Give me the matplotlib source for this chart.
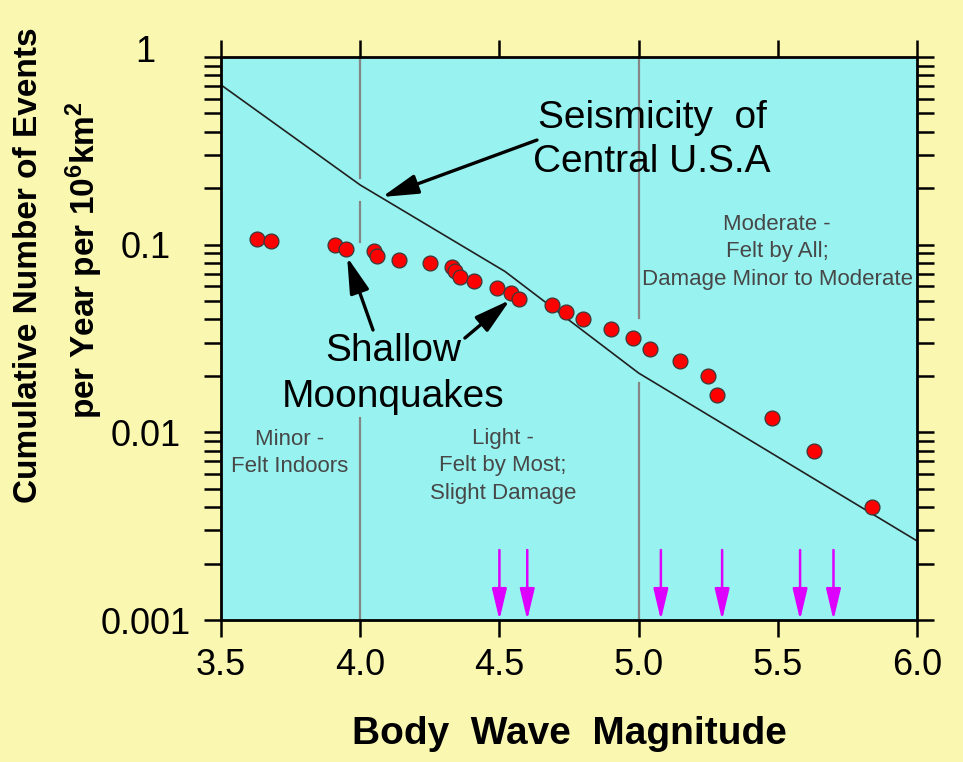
"""Shallow moonquakes vs. seismicity of the central U.S.A. (cumulative frequency)."""

import matplotlib
matplotlib.use("Agg")
import matplotlib.pyplot as plt
import matplotlib.transforms as mtransforms
from matplotlib.ticker import FixedLocator, LogLocator, NullFormatter

plt.rcParams.update({
    "font.family": ["Liberation Sans", "DejaVu Sans"],
    "mathtext.fontset": "custom",
    "mathtext.rm": "Liberation Sans:bold",
    "mathtext.it": "Liberation Sans:bold",
    "mathtext.bf": "Liberation Sans:bold",
})

# shallow moonquakes (body wave magnitude, cumulative events / yr / 10^6 km^2)
moon_mag = [3.63, 3.68, 3.91, 3.95, 4.05, 4.06, 4.14, 4.25, 4.33, 4.34, 4.36,
            4.41, 4.49, 4.54, 4.57, 4.69, 4.74, 4.80, 4.90, 4.98, 5.04, 5.15,
            5.25, 5.28, 5.48, 5.63, 5.84]
moon_rate = [0.107, 0.104, 0.100, 0.095, 0.093, 0.087, 0.083, 0.080, 0.076,
             0.072, 0.067, 0.064, 0.059, 0.0555, 0.0514, 0.0477, 0.0436, 0.040,
             0.0356, 0.032, 0.0278, 0.0239, 0.0199, 0.0159, 0.0119, 0.0080, 0.0040]

# seismicity of the central U.S.A.
usa_mag = [3.5, 4.0, 4.52, 5.0, 6.0]
usa_rate = [0.71, 0.208, 0.072, 0.0207, 0.00264]

# magnitudes marked by magenta arrows
arrow_mag = [4.50, 4.60, 5.08, 5.30, 5.58, 5.70]

y_ticks = [1, 0.1, 0.01, 0.001]
y_tick_labels = ["1", "0.1", "0.01", "0.001"]
x_ticks = [3.5, 4.0, 4.5, 5.0, 5.5, 6.0]
x_tick_labels = ["3.5", "4.0", "4.5", "5.0", "5.5", "6.0"]

YELLOW = "#faf7b0"
CYAN = "#98f3f0"
MAGENTA = "#dd00ff"
GRAY_TXT = "#474747"

fig = plt.figure(figsize=(9.63, 7.62), dpi=100, facecolor=YELLOW)
ax = fig.add_axes([221 / 963, 1 - 620 / 762, 696 / 963, 563 / 762])
ax.set_facecolor(CYAN)
ax.set_yscale("log")
ax.set_xlim(3.5, 6.0)
ax.set_ylim(0.001, 1)

# magnitude class boundaries, broken where they pass the data
for x0, pieces in [(4.0, [(0.2266, 1), (0.1038, 0.1689), (0.001, 0.0119)]),
                   (5.0, [(0.0407, 1), (0.001, 0.0183)])]:
    for lo, hi in pieces:
        ax.plot([x0, x0], [lo, hi], color="#868686", lw=1.6, zorder=1)

ax.plot(usa_mag, usa_rate, color="#202020", lw=1.2, zorder=2)
ax.scatter(moon_mag, moon_rate, s=115, c="#ff0000", edgecolors="#3a3a3a",
           linewidths=0.9, zorder=3)

for m in arrow_mag:
    ax.annotate("", xy=(m, 0.001), xytext=(m, 0.00236),
                arrowprops=dict(arrowstyle="-|>,head_length=1.9,head_width=0.45",
                                mutation_scale=10, lw=1.8, color=MAGENTA,
                                shrinkA=0, shrinkB=0), zorder=4)

black_arrow = dict(arrowstyle="-|>,head_length=2.2,head_width=0.6",
                   mutation_scale=10, lw=2.4, color="black", shrinkA=0, shrinkB=0)
ax.annotate("", xy=(4.078, 0.1795), xytext=(4.635, 0.361), arrowprops=black_arrow)
ax.annotate("", xy=(3.953, 0.086), xytext=(4.046, 0.0351), arrowprops=black_arrow)
ax.annotate("", xy=(4.538, 0.0507), xytext=(4.376, 0.0318), arrowprops=black_arrow)

ax.text(5.048, 0.361, "Seismicity  of\nCentral U.S.A", fontsize=28, ha="center",
        va="center", linespacing=1.3)
ax.text(4.118, 0.0205, "Shallow\nMoonquakes", fontsize=28, ha="center",
        va="center", linespacing=1.35)
small = dict(fontsize=16, color=GRAY_TXT, ha="center", va="center", linespacing=1.38)
ax.text(3.748, 0.00777, "Minor -\nFelt Indoors", **small)
ax.text(4.513, 0.00662, "Light -\nFelt by Most;\nSlight Damage", **small)
ax.text(5.498, 0.0914, "Moderate -\nFelt by All;\nDamage Minor to Moderate", **small)

# axes, ticks and labels
for sp in ax.spines.values():
    sp.set_linewidth(2.0)
ax.set_xticks(x_ticks)
ax.set_xticklabels(x_tick_labels, fontsize=26)
ax.yaxis.set_major_locator(FixedLocator(y_ticks))
ax.set_yticklabels(y_tick_labels, fontsize=26)
ax.yaxis.set_minor_locator(LogLocator(base=10, subs=range(2, 10)))
ax.yaxis.set_minor_formatter(NullFormatter())
for lab in ax.get_yticklabels():
    lab.set_horizontalalignment("center")
ax.tick_params(axis="x", which="both", direction="out", top=True, length=12,
               width=1.8, pad=8)
ax.tick_params(axis="y", which="both", direction="out", right=True, length=12.5,
               width=1.8)
ax.tick_params(axis="y", which="major", pad=42)

# the "1" label sits a little above its tick
top_lab = ax.get_yticklabels()[0]
top_lab.set_transform(top_lab.get_transform()
                      + mtransforms.ScaledTranslation(0, 9 / 100, fig.dpi_scale_trans))

ax.set_xlabel("Body  Wave  Magnitude", fontsize=28, fontweight="bold", labelpad=24)
fig.text(29 / 963, 1 - 265 / 762, "Cumulative Number of Events", rotation=90,
         fontsize=24, fontweight="bold", ha="center", va="center")
fig.text(84 / 963, 1 - 260 / 762, r"per Year per 10$^{6}$km$^{2}$", rotation=90,
         fontsize=24, fontweight="bold", ha="center", va="center")

fig.savefig("out.png", dpi=100, facecolor=YELLOW)
